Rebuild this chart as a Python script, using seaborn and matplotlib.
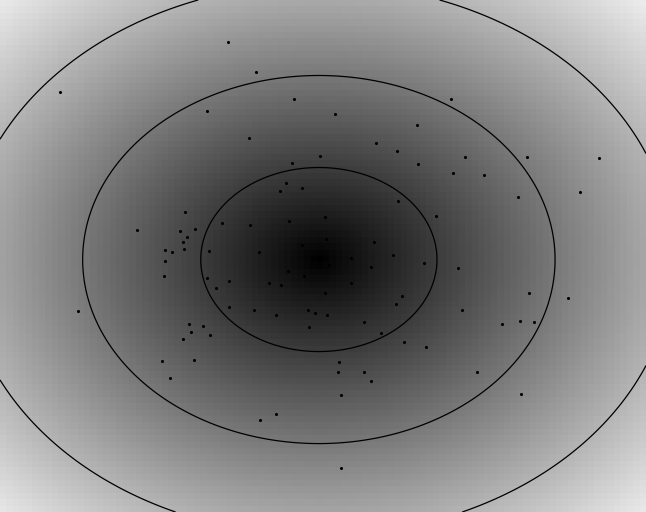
import numpy as np
import pandas as pd
import seaborn as sns
import matplotlib
matplotlib.use("Agg")
import matplotlib.pyplot as plt

# ==========================================
# DATA
# ==========================================
# field parameters (elliptical gaussian, distance shown in gray)
SIGMA_X = 1.0
SIGMA_Y = 0.78
X_RANGE = (-2.70, 2.77)
Y_RANGE = (-2.14, 2.20)
GRID_NX, GRID_NY = 100, 80
CONTOUR_LEVELS = [1, 2, 3]
GRAY_MAX = 4.25

# scattered samples
pts_x = [-0.77, -0.53, -2.19, -0.21, -0.95, -0.59, 0.01, -0.23, -0.28, -0.14,
         -0.33, -1.13, -0.25, -0.82, -0.58, -1.05, -1.54, -1.18, -1.12, -1.15,
         -0.14, -1.30, -1.14, -1.24, -0.93, -0.51,
         1.12, 0.14, 0.83, 0.48, 0.66, 1.24, 1.76, 2.37, 0.84, 1.14,
         1.40, 2.21, 1.69, 0.67, 0.99, 0.05, 0.06, 0.47, 0.63,
         -1.30, -1.31, -0.26, -0.13, -0.95, -0.76, -0.87, -0.42, -0.32, -2.04,
         -0.76, -0.55, -0.36, -0.09, -0.03, -0.08, -1.10, -0.98, -1.08, -0.92,
         -1.15, -1.33, -1.06, -1.26, -0.36, -0.50,
         0.27, 0.09, 0.44, 0.89, 1.18, 0.27, 0.05, 0.70, 0.65, 0.07,
         0.38, 1.21, 0.53, 0.72, 0.91, 1.55, 1.70, 1.82, 1.78, 2.11,
         0.17, 0.16, 0.38, 0.44, 0.19, 1.34, 1.71, 0.19]
pts_y = [1.84, 1.59, 1.42, 1.36, 1.26, 1.03, 0.88, 0.82, 0.65, 0.61,
         0.58, 0.40, 0.33, 0.31, 0.29, 0.26, 0.25, 0.24, 0.19, 0.15,
         0.12, 0.08, 0.09, 0.06, 0.07, 0.06,
         1.36, 1.23, 1.14, 0.99, 0.92, 0.87, 0.87, 0.86, 0.81, 0.73,
         0.72, 0.57, 0.53, 0.50, 0.37, 0.36, 0.17, 0.15, 0.04,
         -0.01, -0.14, -0.10, -0.14, -0.16, -0.18, -0.24, -0.20, -0.22, -0.44,
         -0.40, -0.43, -0.47, -0.43, -0.45, -0.57, -0.55, -0.56, -0.61, -0.64,
         -0.67, -0.86, -0.85, -1.00, -1.31, -1.36,
         0.01, -0.05, -0.06, -0.03, -0.07, -0.20, -0.28, -0.31, -0.38, -0.47,
         -0.53, -0.43, -0.62, -0.70, -0.74, -0.55, -0.52, -0.53, -0.28, -0.33,
         -0.87, -0.95, -0.95, -1.03, -1.15, -0.95, -1.14, -1.77]
# ==========================================


def mahalanobis(x, y):
    return np.sqrt((x / SIGMA_X) ** 2 + (y / SIGMA_Y) ** 2)


def make_plot():
    fig = plt.figure(figsize=(6.46, 5.12), dpi=100)
    ax = fig.add_axes([0, 0, 1, 1])

    # background field on a coarse grid
    xe = np.linspace(X_RANGE[0], X_RANGE[1], GRID_NX + 1)
    ye = np.linspace(Y_RANGE[0], Y_RANGE[1], GRID_NY + 1)
    xc = 0.5 * (xe[:-1] + xe[1:])
    yc = 0.5 * (ye[:-1] + ye[1:])
    XC, YC = np.meshgrid(xc, yc)
    ax.pcolormesh(xe, ye, mahalanobis(XC, YC), cmap="gray",
                  vmin=0, vmax=GRAY_MAX, shading="flat")

    # smooth contour rings
    xf = np.linspace(X_RANGE[0], X_RANGE[1], 600)
    yf = np.linspace(Y_RANGE[0], Y_RANGE[1], 500)
    XF, YF = np.meshgrid(xf, yf)
    ax.contour(XF, YF, mahalanobis(XF, YF), levels=CONTOUR_LEVELS,
               colors="black", linewidths=0.9)

    df = pd.DataFrame({"x": pts_x, "y": pts_y})
    sns.scatterplot(data=df, x="x", y="y", ax=ax, color="black",
                    s=5, linewidth=0, legend=False)

    ax.set_xlim(*X_RANGE)
    ax.set_ylim(*Y_RANGE)
    ax.set_axis_off()

    fig.savefig("out.png", dpi=100)


if __name__ == "__main__":
    make_plot()
